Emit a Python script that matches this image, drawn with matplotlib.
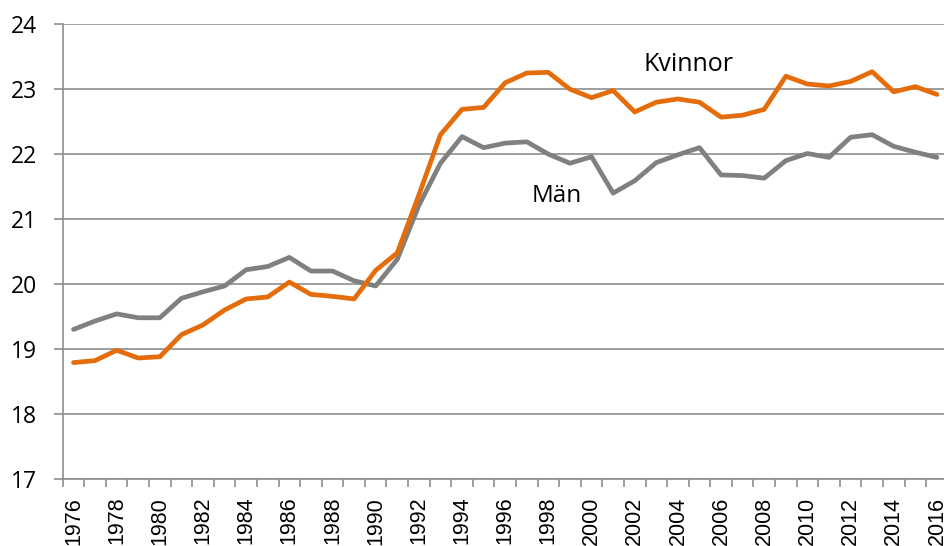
import numpy as np
import matplotlib
matplotlib.use("Agg")
import matplotlib.pyplot as plt
from matplotlib.patches import Rectangle

years = list(range(1976, 2017))
man = [19.30, 19.43, 19.54, 19.48, 19.48, 19.78, 19.88, 19.97, 20.22, 20.27,
       20.41, 20.20, 20.20, 20.05, 19.97, 20.38, 21.21, 21.86, 22.27, 22.10,
       22.17, 22.19, 22.00, 21.86, 21.96, 21.40, 21.59, 21.87, 21.99, 22.10,
       21.68, 21.67, 21.63, 21.90, 22.01, 21.95, 22.26, 22.30, 22.12, 22.03,
       21.95]
kvinnor = [18.79, 18.82, 18.98, 18.86, 18.88, 19.22, 19.37, 19.60, 19.77, 19.80,
           20.03, 19.84, 19.81, 19.77, 20.21, 20.48, 21.37, 22.30, 22.69, 22.72,
           23.10, 23.25, 23.26, 23.00, 22.87, 22.98, 22.65, 22.80, 22.85, 22.80,
           22.57, 22.60, 22.69, 23.20, 23.08, 23.05, 23.12, 23.27, 22.96, 23.04,
           22.92]
yticks = [17, 18, 19, 20, 21, 22, 23, 24]

GRID = "#8e8e8e"
ORANGE = "#e46c0a"
GREY = "#808080"

fig = plt.figure(figsize=(9.45, 5.46), dpi=100)
ax = fig.add_axes([62.7 / 945, 1 - 478.8 / 546, 885.0 / 945, (478.8 - 24.3) / 546])

x = np.arange(len(years))
ax.plot(x, man, color=GREY, lw=3.4, solid_joinstyle="round", solid_capstyle="round", zorder=3)
ax.plot(x, kvinnor, color=ORANGE, lw=3.4, solid_joinstyle="round", solid_capstyle="round", zorder=4)

ax.set_xlim(-0.5, len(years) - 0.5)
ax.set_ylim(17, 24)
ax.set_yticks(yticks)
ax.set_yticklabels([str(v) for v in yticks], fontfamily="Open Sans", fontsize=16.5)
ax.yaxis.grid(True, color=GRID, lw=1.2)
ax.set_axisbelow(True)

ax.set_xticks(x[::2])
ax.set_xticklabels([str(y) for y in years[::2]], rotation=90, fontfamily="Liberation Sans",
                   fontsize=15.5)
ax.set_xticks(np.arange(-0.5, len(years)), minor=True)
ax.tick_params(axis="x", which="major", length=0, pad=13)
ax.tick_params(axis="x", which="minor", length=6, width=1.2, color=GRID)
ax.tick_params(axis="y", length=6.3, width=1.2, color=GRID, pad=12)

for s in ["top", "right"]:
    ax.spines[s].set_visible(False)
for s in ["left", "bottom"]:
    ax.spines[s].set_color(GRID)
    ax.spines[s].set_linewidth(1.2)

ax.text(22.4, 21.26, "Män", fontfamily="Open Sans", fontsize=17.5, ha="center", va="baseline")
t = ax.text(28.5, 23.28, "Kvinnor", fontfamily="Open Sans", fontsize=18, ha="center", va="baseline")
clip = Rectangle((-0.5, 23.28), len(years), 1.0, transform=ax.transData)
t.set_clip_path(clip)

fig.savefig("out.png", dpi=100)
